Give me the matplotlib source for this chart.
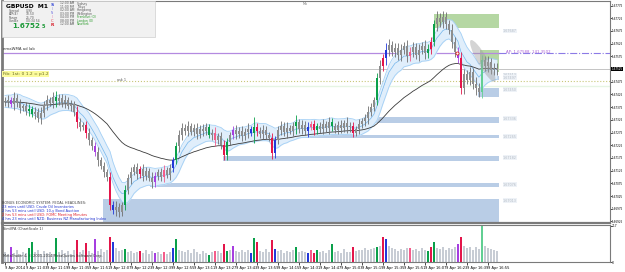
import matplotlib
matplotlib.use('Agg')
import matplotlib.pyplot as plt
import matplotlib.transforms as mtransforms
from matplotlib.patches import Rectangle, Ellipse
import numpy as np
import pandas as pd

# ---- data (one entry per drawn bar) ----
first_open = 1.67400
closes = [
    1.67395, 1.67403, 1.67387, 1.67411, 1.67391, 1.67371, 1.67379, 1.67360, 1.67367, 1.67348,
    1.67356, 1.67332, 1.67352, 1.67383, 1.67403, 1.67391, 1.67415, 1.67399, 1.67411, 1.67391,
    1.67403, 1.67379, 1.67387, 1.67356, 1.67316, 1.67296, 1.67304, 1.67273, 1.67245, 1.67222,
    1.67198, 1.67166, 1.67143, 1.67119, 1.67099, 1.66989, 1.66969, 1.66981, 1.66962, 1.66989,
    1.67048, 1.67096, 1.67119, 1.67139, 1.67111, 1.67131, 1.67103, 1.67123, 1.67096, 1.67080,
    1.67103, 1.67119, 1.67099, 1.67127, 1.67107, 1.67135, 1.67166, 1.67222, 1.67265, 1.67293,
    1.67281, 1.67300, 1.67277, 1.67293, 1.67269, 1.67289, 1.67281, 1.67296, 1.67265, 1.67273,
    1.67245, 1.67261, 1.67226, 1.67186, 1.67237, 1.67265, 1.67285, 1.67269, 1.67281, 1.67261,
    1.67277, 1.67289, 1.67273, 1.67296, 1.67281, 1.67269, 1.67285, 1.67265, 1.67253, 1.67194,
    1.67245, 1.67285, 1.67300, 1.67277, 1.67293, 1.67281, 1.67300, 1.67316, 1.67289, 1.67304,
    1.67281, 1.67296, 1.67308, 1.67285, 1.67300, 1.67289, 1.67308, 1.67293, 1.67316, 1.67300,
    1.67285, 1.67304, 1.67293, 1.67312, 1.67296, 1.67300, 1.67273, 1.67289, 1.67308, 1.67320,
    1.67332, 1.67356, 1.67375, 1.67403, 1.67490, 1.67537, 1.67568, 1.67600, 1.67620, 1.67592,
    1.67608, 1.67580, 1.67600, 1.67616, 1.67576, 1.67592, 1.67612, 1.67580, 1.67600, 1.67616,
    1.67588, 1.67604, 1.67631, 1.67702, 1.67726, 1.67710, 1.67730, 1.67702, 1.67679, 1.67631,
    1.67592, 1.67568, 1.67450, 1.67505, 1.67482, 1.67513, 1.67466, 1.67450, 1.67434, 1.67560,
    1.67537, 1.67553, 1.67521, 1.67529, 1.67521,
]
# wick length beyond the body, in points (0.00001)
wick_pts = [
    15, 20, 12, 22, 14, 18, 10, 16, 20, 12, 18, 14, 22, 16, 20,
    12, 18, 24, 14, 16, 20, 12, 18, 14, 22, 16, 12, 18, 20, 14,
    16, 22, 12, 18, 14, 20, 16, 24, 18, 14, 20, 16, 22, 12, 18,
    14, 20, 16, 12, 24, 18, 14, 16, 20, 12, 18, 14, 16, 22, 18,
    14, 20, 12, 16, 18, 14, 20, 16, 12, 18, 22, 14, 16, 20, 18,
    12, 16, 20, 14, 18, 16, 22, 12, 40, 18, 14, 20, 16, 12, 22,
    18, 14, 20, 16, 24, 12, 18, 30, 14, 20, 16, 22, 12, 18, 14,
    16, 20, 14, 22, 18, 12, 16, 20, 14, 24, 18, 16, 12, 20, 14,
    18, 22, 16, 14, 20, 24, 18, 26, 22, 16, 20, 18, 24, 14, 22,
    18, 20, 16, 24, 14, 22, 18, 20, 16, 26, 18, 22, 20, 16, 24,
    20, 18, 24, 22, 16, 20, 18, 26, 20, 22, 18, 24, 16, 20, 18,
]
volumes = [
    60, 45, 92, 55, 70, 48, 62, 52, 83, 117, 58, 72, 50, 66, 54,
    61, 47, 140, 57, 69, 52, 64, 49, 71, 131, 60, 74, 115, 68, 56,
    136, 63, 77, 59, 70, 146, 117, 82, 66, 73, 77, 58, 64, 52, 61,
    63, 55, 70, 47, 66, 54, 60, 49, 58, 45, 62, 85, 134, 72, 66,
    57, 69, 53, 75, 60, 48, 68, 56, 44, 59, 67, 63, 54, 108, 63,
    71, 98, 65, 58, 73, 61, 69, 54, 142, 117, 66, 60, 75, 57, 131,
    77, 63, 70, 55, 68, 61, 73, 92, 58, 66, 62, 54, 69, 55, 72,
    59, 67, 53, 71, 106, 60, 64, 55, 76, 62, 58, 92, 66, 72, 69,
    84, 70, 77, 81, 88, 95, 150, 134, 97, 83, 75, 68, 79, 72, 85,
    83, 71, 78, 66, 82, 74, 63, 90, 121, 86, 79, 92, 70, 84, 77,
    88, 106, 150, 94, 81, 87, 73, 90, 78, 212, 96, 84, 77, 70, 66,
]
# PVSRA-type bars: g climax up, r climax down, b rising, m falling, p pink, l light green
special = {2: 'm', 8: 'g', 9: 'g', 17: 'g', 24: 'r', 27: 'r', 30: 'm', 35: 'r', 36: 'b',
           40: 'g', 45: 'r', 50: 'm', 53: 'p', 56: 'b', 57: 'g', 68: 'g', 70: 'p', 73: 'r',
           74: 'g', 76: 'm', 82: 'b', 83: 'g', 84: 'r', 89: 'r', 90: 'b', 97: 'g', 101: 'b',
           102: 'p', 103: 'r', 104: 'g', 109: 'g', 116: 'r', 124: 'g', 126: 'r', 127: 'b',
           135: 'p', 141: 'g', 142: 'r', 143: 'g', 151: 'm', 152: 'r', 159: 'l'}

# supply / demand zones
zone_start = [32.7, 48.3, 72.7, 89.0, 120.0, 143.0, 158.3, 157.7, 161.7]
zone_top = [1.67013, 1.67076, 1.67182, 1.67265, 1.67336, 1.67742, 1.67600, 1.67450, 1.67497]
zone_bottom = [1.66923, 1.67060, 1.67163, 1.67253, 1.67312, 1.67687, 1.67513, 1.67415, 1.67482]
zone_kind = ['d', 'd', 'd', 'd', 'd', 's', 's', 'd', 'd']

ap_level = 1.67588
bid = 1.67525
fib_level = 1.67478
green_level = 1.67458

time_labels = ['9 Apr 2014', '9 Apr 11:03', '9 Apr 11:19', '9 Apr 11:35', '9 Apr 11:51',
               '9 Apr 12:07', '9 Apr 12:23', '9 Apr 12:39', '9 Apr 12:55', '9 Apr 13:11',
               '9 Apr 13:27', '9 Apr 13:43', '9 Apr 13:59', '9 Apr 14:15', '9 Apr 14:31',
               '9 Apr 14:47', '9 Apr 15:03', '9 Apr 15:19', '9 Apr 15:35', '9 Apr 15:51',
               '9 Apr 16:07', '9 Apr 16:23', '9 Apr 16:39', '9 Apr 16:55']

sessions = [('12:00 AM', 'Sydney'), ('11:00 PM', 'Tokyo'), ('02:00 AM', 'Hongkong'),
            ('03:00 PM', 'Wellington'), ('04:00 PM', 'Frankfurt (O)'),
            ('08:00 PM', 'London (O)'), ('12:00 AM', 'NewYork')]

news = [('BONUS ECONOMIC SYSTEM: FEOAL HEADLINES:', '#404040'),
        ('23 mins until USD: Crude Oil Inventories', '#1c2fd0'),
        ('2 hrs 53 mins until USD: 10-y Bond Auction', '#1c2fd0'),
        ('2 hrs 53 mins until USD: FOMC Meeting Minutes', '#e0202a'),
        ('4 hrs 23 mins until NZD: Business NZ Manufacturing Index', '#1c2fd0')]

# ---- styles ----
kind_col = {'g': '#0aa04a', 'r': '#e3154a', 'b': '#2338d8', 'm': '#a63ee0',
            'p': '#f45c8a', 'l': '#62cf93'}
zone_col = {'d': '#b9cde6', 's': '#b5d7a3'}

W, H = 625, 272
def fx(x):
    return x / W
def fy(y):
    return 1 - y / H

closes = np.array(closes)
n = len(closes)
idx = np.arange(n)
opens = np.r_[first_open, closes[:-1]]
wick = np.array(wick_pts) * 1e-5
highs = np.maximum(opens, closes) + wick
lows = np.minimum(opens, closes) - wick

body_cols = [kind_col.get(special.get(i, ''), '#8d8d8d') for i in idx]
vol_cols = [kind_col.get(special.get(i, ''), '#c7ccd4') for i in idx]

def ema(vals, span):
    return pd.Series(vals).ewm(span=span, adjust=False).mean().values

rib_hi = ema(highs, 8) + 0.00006
rib_lo = ema(lows, 8) - 0.00006
rib_mid = ema(closes, 8)
slow = ema(closes, 40)

fig = plt.figure(figsize=(6.25, 2.72), dpi=100)
ax = fig.add_axes([fx(2), fy(223), fx(610) - fx(2), fy(1) - fy(223)])
axv = fig.add_axes([fx(2), fy(262), fx(610) - fx(2), fy(225) - fy(262)], sharex=ax)

ax.set_xlim(-1, 201.7)
ax.set_ylim(1.66919, 1.67793)

# zones, label at the edge facing price
for s, t, b, k in zip(zone_start, zone_top, zone_bottom, zone_kind):
    ax.add_patch(Rectangle((s, b), 164.6 - s, t - b, fc=zone_col[k], ec='none', zorder=1))
    lvl = b if k == 's' else t
    off = -0.00012 if k == 's' else -0.00006
    ax.text(166, lvl + off, f'{lvl:.5f}', fontsize=2.4, color='#b4bcc6', va='center', zorder=2,
            bbox=dict(fc='#eef2f7', ec='none', pad=0.3))

# horizontal levels
ax.plot([-1, 164.6], [ap_level] * 2, color='#b48ae0', lw=0.9, zorder=2)
ax.plot([164.6, 202], [ap_level] * 2, color='#8c7ae6', lw=0.8, ls='-.', zorder=2)
ax.axhline(bid, color='#c4c4c4', lw=0.7, zorder=2)
ax.axhline(fib_level, color='#c9c77a', lw=0.8, ls=':', zorder=2)
ax.axhline(green_level, color='#e6f5e4', lw=1.0, zorder=2)

# ribbon + slow MA
ax.fill_between(idx, rib_lo, rib_hi, color='#e0eefb', lw=0, zorder=2)
ax.plot(idx, rib_hi, color='#a4d0f5', lw=0.6, zorder=3)
ax.plot(idx, rib_lo, color='#a4d0f5', lw=0.6, zorder=3)
ax.plot(idx, rib_mid, color='#74b6ec', lw=0.5, zorder=3)
ax.plot(idx, slow, color='#3a3a3a', lw=0.6, zorder=3)

# candles
ax.vlines(idx, lows, highs, colors=[c if c != '#8d8d8d' else '#6e6e6e' for c in body_cols],
          lw=0.6, zorder=4)
ax.bar(idx, np.maximum(np.abs(closes - opens), 0.00001), bottom=np.minimum(opens, closes),
       width=0.6, color=body_cols, lw=0, zorder=5)

# ellipse + marker
trans = fig.dpi_scale_trans + mtransforms.ScaledTranslation(159.3, 1.67557, ax.transData)
ax.add_patch(Ellipse((0, 0), 0.10, 0.48, angle=30, transform=trans, fc='#a0a0a0',
                     alpha=0.45, ec='none', zorder=6))
ax.plot([150.7], [ap_level], 'o', ms=2.2, mfc='white', mec='#e02020', mew=0.6, zorder=7)
ax.text(167, ap_level + 0.00004, 'AP: 1.67588, 141.3502', fontsize=2.8, color='#a85cd4',
        va='center', zorder=7)

# price axis
ax.yaxis.tick_right()
ax.set_yticks(1.67525 + 0.0005 * np.arange(-12, 6))
ax.yaxis.set_major_formatter(plt.FormatStrFormatter('%.5f'))
ax.tick_params(axis='y', labelsize=2.0, length=1.2, width=0.5, pad=0.4)
ax.tick_params(axis='x', bottom=False, labelbottom=False)
ax.annotate(f'{bid:.5f}', xy=(1.0, bid), xycoords=('axes fraction', 'data'),
            xytext=(0.9, 0), textcoords='offset points', fontsize=2.0, color='white',
            va='center', ha='left', bbox=dict(fc='black', ec='none', pad=0.2), zorder=9,
            annotation_clip=False)

# volume panel
axv.bar(idx, volumes, width=0.6, color=vol_cols, lw=0)
axv.set_ylim(0, 220)
axv.yaxis.tick_right()
axv.set_yticks([0, 217])
axv.set_yticklabels(['0', '217'])
axv.tick_params(axis='y', labelsize=2.2, length=1.2, width=0.5, pad=0.4)
tick_pos = np.arange(len(time_labels)) * 7
axv.set_xticks(tick_pos)
axv.set_xticklabels(time_labels, ha='left')
axv.tick_params(axis='x', labelsize=2.6, length=2, width=0.5, pad=1)

for a in (ax, axv):
    for sp in a.spines.values():
        sp.set_color('#7a7a7a')
        sp.set_linewidth(0.8)
ax.spines['left'].set_linewidth(2)
axv.spines['left'].set_linewidth(2)
ax.spines['bottom'].set_linewidth(1.6)

# texts on main chart
fig.text(fx(3), fy(49), 'emaWMA ad lab', fontsize=2.8, color='#333333', va='center')
fig.text(fx(3), fy(74), 'Fib: 1st: 0 1.2 = p1.2', fontsize=3.2, color='#6a6a20', va='center',
         bbox=dict(fc='#fbfb9c', ec='none', pad=0.5))
fig.text(fx(117), fy(80), 'ask 1', fontsize=2.4, color='#555555', va='center')
fig.text(fx(303), fy(4), 'Mo', fontsize=2.4, color='#777777', va='center')
for k, (t, c) in enumerate(news):
    fig.text(fx(2), fy(203 + 4 * k), t, fontsize=2.5, color=c, va='center')
fig.text(fx(3), fy(229), 'SimVPA (ChartScale 1)', fontsize=2.5, color='#333333', va='center')
fig.text(fx(3), fy(256), 'MetaTrader 4, \u00a9 2001-2014 MetaQuotes Software Corp.',
         fontsize=2.5, color='#333333', va='center')

# info panel
fig.add_artist(Rectangle((fx(2), fy(37)), fx(155) - fx(2), fy(1) - fy(37),
                         transform=fig.transFigure, fc='#f1f1f1', ec='#cfcfcf', lw=0.5, zorder=10))
fig.text(fx(6), fy(6), 'GBPUSD  M1', fontsize=4.3, weight='bold', va='center', zorder=11)
info = [('Spread', '0.90'), ('ATR(4)', '10.50'), ('Range', '25.70'), ('Candle', '00:34 54')]
for k, (a, b) in enumerate(info):
    fig.text(fx(9), fy(11 + 3.3 * k), a, fontsize=2.2, color='#555555', va='center', zorder=11)
    fig.text(fx(26), fy(11 + 3.3 * k), b, fontsize=2.2, color='#555555', va='center', zorder=11)
fig.text(fx(12), fy(26), '1.6752', fontsize=5.2, weight='bold', color='#1f9a3a', va='center', zorder=11)
fig.text(fx(42), fy(27), '5', fontsize=3.6, weight='bold', color='#1f9a3a', va='center', zorder=11)
letters = [('S', '#2a3fd6', 3.2, 'bold'), ('I', '#6f6fe0', 2.2, 'normal'),
           ('N', '#6f6fe0', 2.2, 'normal'), ('I', '#e060a0', 2.2, 'normal'),
           ('C', '#e03040', 2.6, 'normal'), ('R', '#d81e2a', 3.2, 'bold')]
for k, (t, c, s, w) in enumerate(letters):
    fig.text(fx(52), fy(4.5 + 4 * k), t, fontsize=s, color=c, weight=w, va='center', ha='center',
             zorder=11)
for k, (t, nm) in enumerate(sessions):
    c = '#2a9a2a' if k >= 4 else '#555555'
    fig.text(fx(60), fy(3.5 + 3.4 * k), t, fontsize=2.2, color='#555555', va='center', zorder=11)
    fig.text(fx(77), fy(3.5 + 3.4 * k), nm, fontsize=2.2, color=c, va='center', zorder=11)

fig.savefig('out.png', dpi=100)
